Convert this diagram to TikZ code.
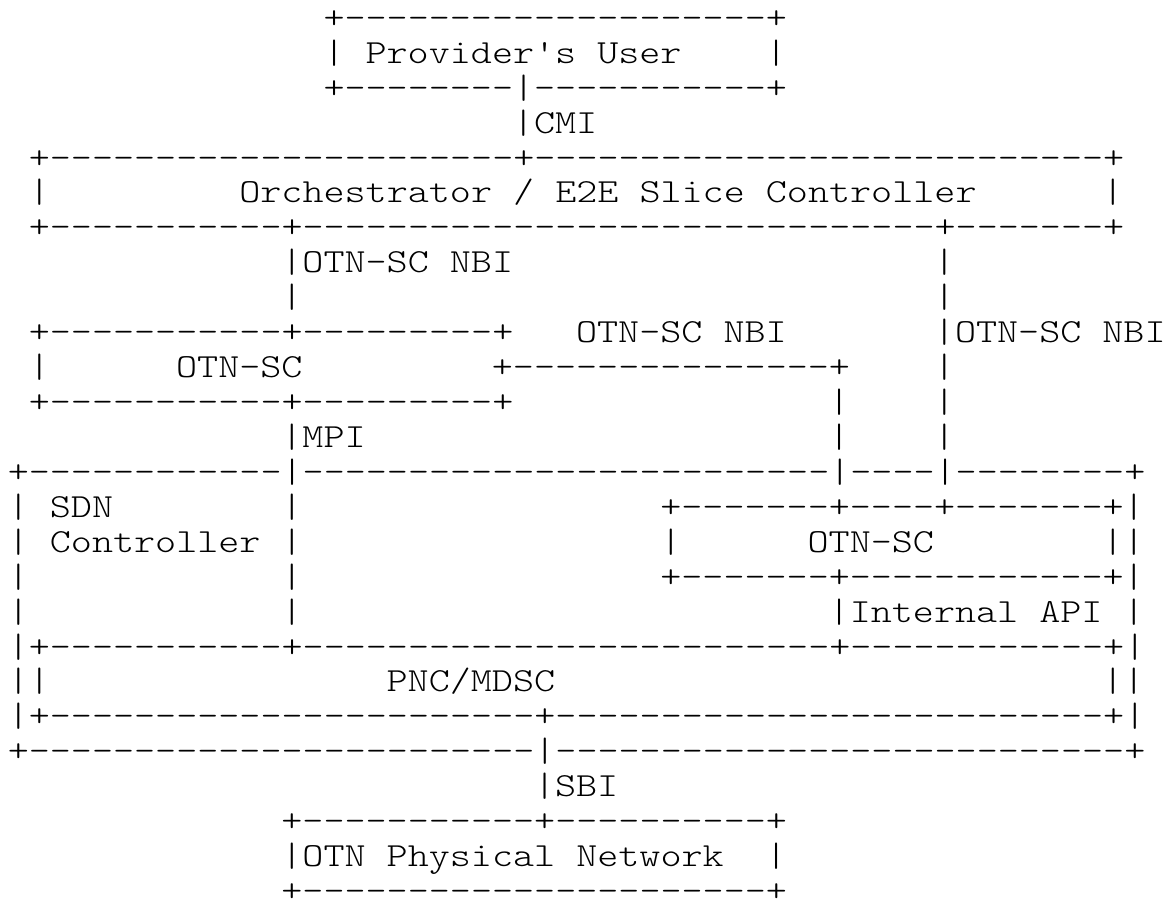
\documentclass[tikz,border=0pt]{standalone}
\usepackage{fontspec}
\setmonofont[FakeStretch=1.19]{lmmonolt10-regular.otf}
% n hyphens in a row (monospaced font, no TeX ligatures)
\ExplSyntaxOn
\cs_new:Npn \dashrun #1 { \prg_replicate:nn {#1} {-} }
\ExplSyntaxOff
\tikzset{ascii/.style={anchor=base west, inner sep=0pt, outer sep=0pt,
  font=\ttfamily\fontsize{16.86pt}{16.86pt}\selectfont, text=black}}
% one run of characters, placed at a character column and text row
\newcommand\chunk[4]{\node[ascii] (#1) at (#2,#3) {#4};}
\begin{document}
\begin{tikzpicture}[x={(10.525pt,0)}, y={(0,-17.465pt)}]
\useasboundingbox (-0.3694,-0.8102) rectangle (54.93,24.98);
% Provider's User
\chunk{usrT}{15}{0}{+\dashrun{20}+}
\chunk{usrL}{15}{1}{|}
\chunk{usr}{17}{1}{Provider's User}
\chunk{usrR}{36}{1}{|}
\chunk{usrB}{15}{2}{+\dashrun{8}|\dashrun{11}+}
\chunk{cmi}{24}{3}{|CMI}
% Orchestrator
\chunk{orchT}{1}{4}{+\dashrun{22}+\dashrun{27}+}
\chunk{orchL}{1}{5}{|}
\chunk{orch}{11}{5}{Orchestrator / E2E Slice Controller}
\chunk{orchR}{52}{5}{|}
\chunk{orchB}{1}{6}{+\dashrun{11}+\dashrun{30}+\dashrun{7}+}
\chunk{nbiA}{13}{7}{|OTN-SC NBI}
\chunk{vR7}{44}{7}{|}
\chunk{vL8}{13}{8}{|}
\chunk{vR8}{44}{8}{|}
% first OTN-SC
\chunk{scT}{1}{9}{+\dashrun{11}+\dashrun{9}+}
\chunk{nbiB}{27}{9}{OTN-SC NBI}
\chunk{nbiC}{44}{9}{|OTN-SC NBI}
\chunk{scL}{1}{10}{|}
\chunk{sc}{8}{10}{OTN-SC}
\chunk{scLink}{23}{10}{+\dashrun{15}+}
\chunk{vR10}{44}{10}{|}
\chunk{scB}{1}{11}{+\dashrun{11}+\dashrun{9}+}
\chunk{vM11}{39}{11}{|}
\chunk{vR11}{44}{11}{|}
\chunk{mpi}{13}{12}{|MPI}
\chunk{vM12}{39}{12}{|}
\chunk{vR12}{44}{12}{|}
% SDN Controller
\chunk{sdnT}{0}{13}{+\dashrun{12}|\dashrun{25}|\dashrun{4}|\dashrun{8}+}
\chunk{sdnL14}{0}{14}{|}
\chunk{sdn}{2}{14}{SDN}
\chunk{vA14}{13}{14}{|}
\chunk{inT}{31}{14}{+\dashrun{7}+\dashrun{4}+\dashrun{7}+}
\chunk{sdnR14}{53}{14}{|}
\chunk{sdnL15}{0}{15}{|}
\chunk{ctl}{2}{15}{Controller}
\chunk{vA15}{13}{15}{|}
\chunk{inL}{31}{15}{|}
\chunk{insc}{38}{15}{OTN-SC}
\chunk{inR}{52}{15}{||}
\chunk{sdnL16}{0}{16}{|}
\chunk{vA16}{13}{16}{|}
\chunk{inB}{31}{16}{+\dashrun{7}+\dashrun{12}+}
\chunk{sdnR16}{53}{16}{|}
\chunk{sdnL17}{0}{17}{|}
\chunk{vA17}{13}{17}{|}
\chunk{api}{39}{17}{|Internal API}
\chunk{sdnR17}{53}{17}{|}
% PNC/MDSC
\chunk{pncT}{0}{18}{|+\dashrun{11}+\dashrun{25}+\dashrun{12}+|}
\chunk{pncL}{0}{19}{||}
\chunk{pnc}{18}{19}{PNC/MDSC}
\chunk{pncR}{52}{19}{||}
\chunk{pncB}{0}{20}{|+\dashrun{23}+\dashrun{26}+|}
\chunk{sdnB}{0}{21}{+\dashrun{24}|\dashrun{27}+}
\chunk{sbi}{25}{22}{|SBI}
% OTN Physical Network
\chunk{phyT}{13}{23}{+\dashrun{11}+\dashrun{10}+}
\chunk{phy}{13}{24}{|OTN Physical Network}
\chunk{phyR}{36}{24}{|}
\chunk{phyB}{13}{25}{+\dashrun{22}+}
\end{tikzpicture}
\end{document}
